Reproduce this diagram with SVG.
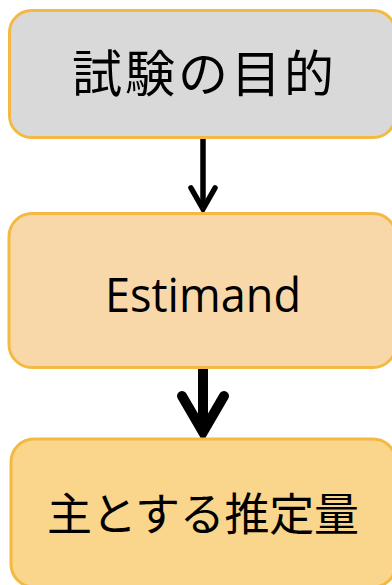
<svg xmlns="http://www.w3.org/2000/svg" width="392" height="585" viewBox="0 0 392 585">
<style>
.box{stroke:#F4B943;stroke-width:3}
.jp{font-family:"Noto Sans CJK JP","Noto Sans",sans-serif;fill:#000;text-anchor:middle}
.en{font-family:"Open Sans","Noto Sans",sans-serif;fill:#000;text-anchor:middle}
.arr{stroke:#000;fill:none;stroke-linejoin:miter}
.a1{stroke-width:5.5}
.a2{stroke-width:10}
</style>
<rect width="392" height="585" fill="#fff"/>
<g id="connectors">
<g id="arrow1">
<line class="arr a1" x1="203" y1="139" x2="203" y2="207"/>
<polyline class="arr a1" points="191,188 203,209 215,188" style="stroke-linecap:round"/>
</g>
<g id="arrow2">
<line class="arr a2" x1="203" y1="369" x2="203" y2="428"/>
<polyline class="arr a2" points="182,396 203,432 224,396" style="stroke-linecap:round"/>
</g>
</g>
<g id="node1">
<rect class="box" x="9.5" y="10.5" width="386" height="127" rx="22" fill="#D9D9D9"/>
<text class="jp" x="203" y="92" font-size="50" textLength="262" lengthAdjust="spacing">試験の目的</text>
</g>
<g id="node2">
<rect class="box" x="9" y="213.5" width="387" height="154" rx="23" fill="#F8D8A8"/>
<text class="en" x="203" y="312" font-size="47" textLength="196" lengthAdjust="spacingAndGlyphs">Estimand</text>
</g>
<g id="node3">
<rect class="box" x="11" y="439" width="385" height="148" rx="23" fill="#FAD58C"/>
<text class="jp" x="203" y="531" font-size="45" textLength="312" lengthAdjust="spacing">主とする推定量</text>
</g>
</svg>
